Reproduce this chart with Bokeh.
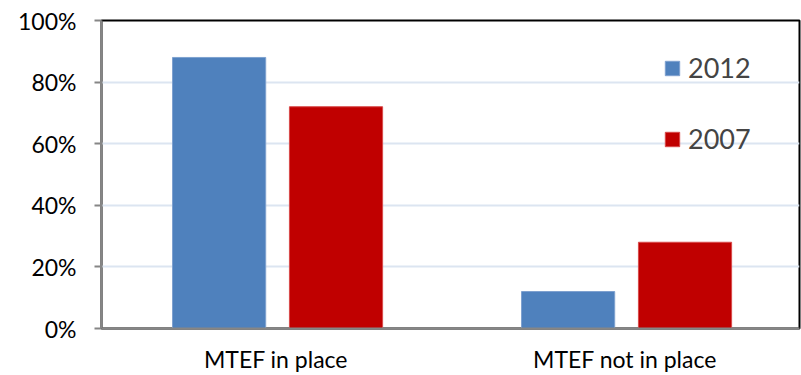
from bokeh.plotting import figure
from bokeh.models import (ColumnDataSource, FactorRange, Range1d, Legend, LegendItem,
                          PrintfTickFormatter, FixedTicker)
from bokeh.transform import dodge
from bokeh.embed import file_html
from bokeh.resources import INLINE

# Share of countries with / without a medium-term expenditure framework
categories = ["MTEF in place", "MTEF not in place"]
values_2012 = [88, 12]
values_2007 = [72, 28]
y_ticks = [0, 20, 40, 60, 80, 100]

FONT = "Lato"
BLUE = "#4f81bd"
RED = "#c00000"

src = ColumnDataSource(dict(cat=categories, y2012=values_2012, y2007=values_2007))

p = figure(width=801, height=375, x_range=FactorRange(*categories, range_padding=0),
           y_range=Range1d(0, 100), output_backend="svg", toolbar_location=None,
           min_border_left=101, min_border_right=2, min_border_top=20, min_border_bottom=46)

bar_2012 = p.vbar(x=dodge("cat", -0.163, range=p.x_range), top="y2012", width=0.267,
                  source=src, fill_color=BLUE, line_color="#7ea1cf", line_width=1)
bar_2007 = p.vbar(x=dodge("cat", 0.172, range=p.x_range), top="y2007", width=0.267,
                  source=src, fill_color=RED, line_color="#d84a4a", line_width=1)

# frame: black top/right border, grey axes
p.outline_line_color = "black"
p.outline_line_width = 2

p.xgrid.grid_line_color = None
p.ygrid.grid_line_color = "#dce5f1"
p.ygrid.grid_line_width = 2
p.ygrid.ticker = FixedTicker(ticks=y_ticks)

yax = p.yaxis[0]
yax.ticker = FixedTicker(ticks=y_ticks)
yax.formatter = PrintfTickFormatter(format="%d%%")
yax.axis_line_color = "#868686"
yax.axis_line_width = 2
yax.major_tick_line_color = "#868686"
yax.major_tick_line_width = 2
yax.major_tick_out = 7
yax.major_tick_in = 0
yax.minor_tick_line_color = None
yax.major_label_standoff = 18
yax.major_label_text_font = FONT
yax.major_label_text_font_size = "23px"
yax.major_label_text_color = "black"

xax = p.xaxis[0]
xax.axis_line_color = "#868686"
xax.axis_line_width = 2
xax.major_tick_line_color = None
xax.major_tick_out = 0
xax.major_tick_in = 0
xax.minor_tick_line_color = None
xax.major_label_standoff = 16
xax.major_label_text_font = FONT
xax.major_label_text_font_size = "23px"
xax.major_label_text_color = "black"

legend = Legend(items=[LegendItem(label="2012", renderers=[bar_2012]),
                       LegendItem(label="2007", renderers=[bar_2007])],
                location=(562, 173), orientation="vertical",
                glyph_width=18, glyph_height=18, label_standoff=7,
                label_text_font=FONT, label_text_font_size="27px",
                label_height=20, spacing=38, padding=0, margin=0,
                border_line_color=None, background_fill_alpha=0)
p.add_layout(legend)

open("out.html", "w").write(file_html(p, INLINE))
